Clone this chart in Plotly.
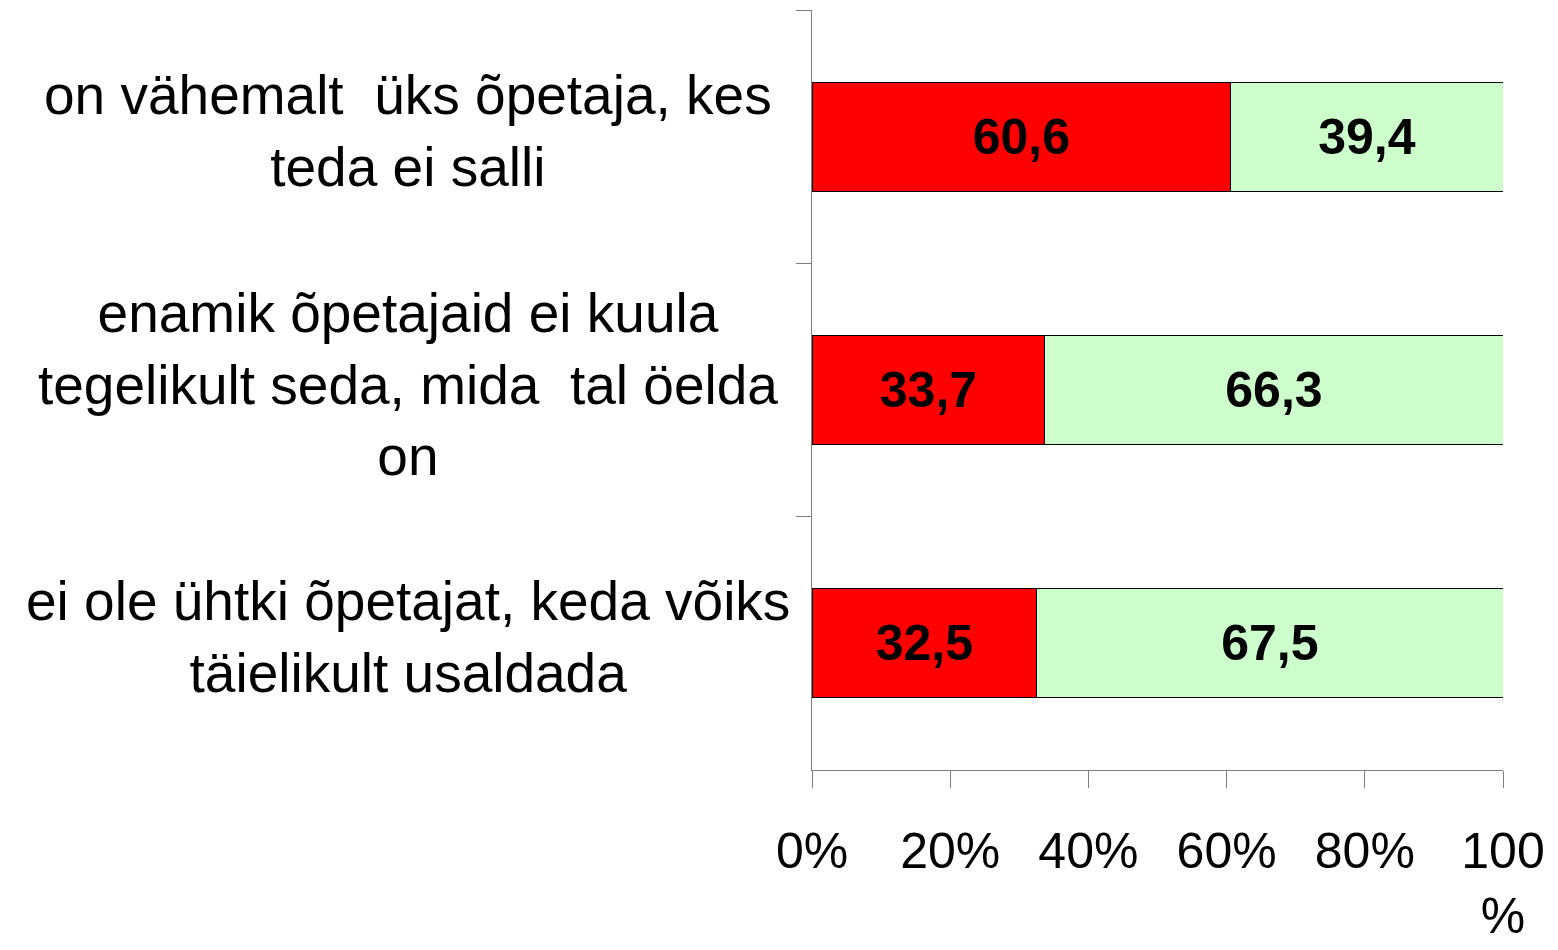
import plotly.graph_objects as go

categories = [
    "on vähemalt  üks õpetaja, kes<br>teda ei salli",
    "enamik õpetajaid ei kuula<br>tegelikult seda, mida  tal öelda<br>on",
    "ei ole ühtki õpetajat, keda võiks<br>täielikult usaldada",
]
agree = [60.6, 33.7, 32.5]
disagree = [39.4, 66.3, 67.5]
tick_vals = [0, 20, 40, 60, 80, 100]
tick_text = ["0%", "20%", "40%", "60%", "80%", "100<br>%"]

RED = "#ff0000"
GREEN = "#ccffcc"
AXIS = "#808080"
FONT = "Liberation Sans, Arial, sans-serif"

# the page body adds an 8px offset, margins below compensate for it
fig = go.Figure()
for vals, color in [(agree, RED), (disagree, GREEN)]:
    fig.add_trace(
        go.Bar(
            x=vals,
            y=categories,
            orientation="h",
            width=0.43,
            marker=dict(color=color, line=dict(color="#000000", width=1)),
            texttemplate="%{x:.1f}",
            textposition="inside",
            insidetextanchor="middle",
            textangle=0,
            textfont=dict(family=FONT, size=50, color="#000000", weight="bold"),
            cliponaxis=False,
            showlegend=False,
        )
    )

# category labels as centred multi-line text, like the original
for cat in categories:
    fig.add_annotation(
        text=cat,
        x=(408 - 812) / (1503 - 812),
        xref="x domain",
        y=cat,
        yref="y",
        yshift=6,
        showarrow=False,
        align="center",
        xanchor="center",
        font=dict(family=FONT, size=55, color="#000000"),
    )

fig.update_layout(
    barmode="stack",
    separators=",.",
    width=1558,
    height=950,
    paper_bgcolor="white",
    plot_bgcolor="white",
    margin=dict(l=804, r=63, t=2, b=188, autoexpand=False),
    font=dict(family=FONT, size=50, color="#000000"),
    xaxis=dict(
        range=[0, 100],
        tickvals=tick_vals,
        ticktext=tick_text,
        ticks="outside",
        ticklen=17,
        tickcolor=AXIS,
        showline=True,
        linecolor=AXIS,
        linewidth=1,
        showgrid=False,
        zeroline=False,
        automargin=False,
        ticklabelstandoff=20,
        tickfont=dict(family=FONT, size=50, color="#000000"),
    ),
    yaxis=dict(
        type="category",
        range=[2.5, -0.5],
        tickson="boundaries",
        ticks="outside",
        ticklen=15,
        tickcolor=AXIS,
        showticklabels=False,
        showline=True,
        linecolor=AXIS,
        linewidth=1,
        showgrid=False,
        automargin=False,
    ),
)

fig.write_html("out.html")
